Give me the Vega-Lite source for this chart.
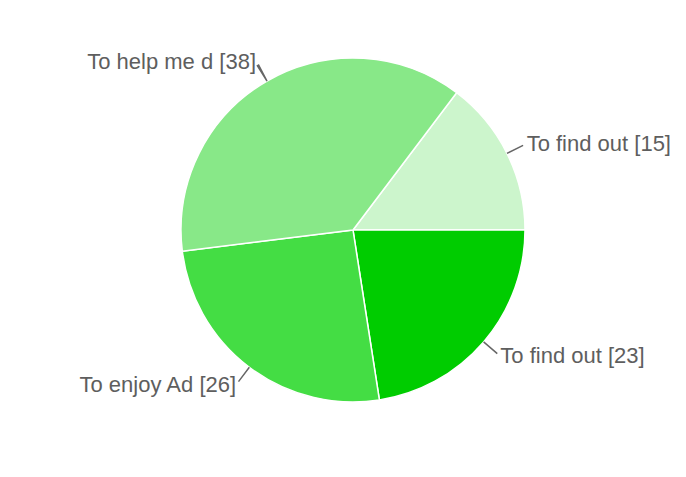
{
  "$schema": "https://vega.github.io/schema/vega-lite/v6.json",
  "width": 666,
  "height": 460,
  "autosize": {"type": "none"},
  "padding": {"left": 20, "right": 0, "top": 0, "bottom": 17},
  "background": "white",
  "config": {"view": {"stroke": null}},
  "data": {
    "values": [
      {"label": "To find out  [15]", "count": 15},
      {"label": "To find out  [23]", "count": 23},
      {"label": "To enjoy Ad  [26]", "count": 26},
      {"label": "To help me d [38]", "count": 38}
    ]
  },
  "encoding": {
    "theta": {"field": "count", "type": "quantitative", "stack": true, "scale": {"range": [0.6468, 6.9300]}},
    "order": {"field": "count", "sort": "ascending"}
  },
  "layer": [
    {
      "mark": {"type": "arc", "radius": 172, "stroke": "white", "strokeWidth": 1.5},
      "encoding": {
        "color": {
          "field": "label", "type": "nominal", "legend": null,
          "scale": {
            "domain": ["To find out  [15]", "To find out  [23]", "To enjoy Ad  [26]", "To help me d [38]"],
            "range": ["#ccf5cc", "#00cc00", "#44dd44", "#88e888"]
          }
        }
      }
    },
    {
      "mark": {"type": "arc", "radius": 190, "radius2": 172, "padAngle": 1.5, "fill": null, "fillOpacity": 0, "stroke": "#666666", "strokeWidth": 1.5},
      "encoding": {"detail": {"field": "label"}}
    },
    {
      "mark": {"type": "text", "radius": 194, "align": "left", "baseline": "middle", "font": "Liberation Sans Narrow, Liberation Sans, sans-serif", "fontSize": 22, "fill": "#5e5e5e"},
      "encoding": {
        "detail": {"field": "label"},
        "text": {"condition": {"test": "datum.count == 15 || datum.count == 23", "field": "label"}, "value": ""}
      }
    },
    {
      "mark": {"type": "text", "radius": 194, "align": "right", "baseline": "middle", "font": "Liberation Sans Narrow, Liberation Sans, sans-serif", "fontSize": 22, "fill": "#5e5e5e"},
      "encoding": {
        "detail": {"field": "label"},
        "text": {"condition": {"test": "datum.count == 26 || datum.count == 38", "field": "label"}, "value": ""}
      }
    }
  ]
}
